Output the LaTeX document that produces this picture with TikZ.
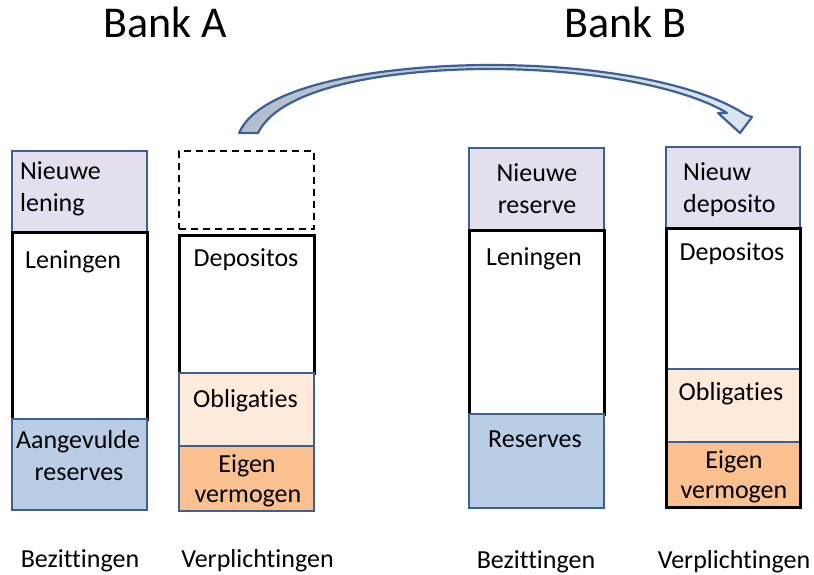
\documentclass[tikz,border=0pt]{standalone}
\usepackage{fontspec}
\setmainfont[Ligatures=NoCommon]{Carlito}
\definecolor{bordblue}{RGB}{62,96,145}
\definecolor{lav}{HTML}{E4DFEC}
\definecolor{resblue}{HTML}{B9CDE5}
\definecolor{peach}{HTML}{FDEADA}
\definecolor{orng}{HTML}{FAC090}
\definecolor{arrL}{HTML}{B2BDCB}
\definecolor{arrR}{HTML}{DCE6F2}
\tikzset{
  blkbox/.style={draw=black, line width=3pt, fill=white, inner sep=0pt},
  bluebox/.style={draw=bordblue, line width=2.5pt, inner sep=0pt},
  lbl/.style={font=\fontsize{26}{31}\selectfont, inner sep=0pt, anchor=base},
  lbll/.style={lbl, anchor=base west},
  ttl/.style={font=\fontsize{44}{50}\selectfont, inner sep=0pt, anchor=base},
}
\begin{document}
\begin{tikzpicture}[x=1pt,y=-1pt]
\useasboundingbox (0,0) rectangle (814,575);
% titles
\node[ttl] (ta) at (165.5,38) {Bank A};
\node[ttl] (tb) at (625.5,38) {Bank B};
% Bank A assets
\node[bluebox, fill=lav, minimum width=135pt, minimum height=81pt] (anl) at (79.5,191.5) {};
\node[blkbox, minimum width=135pt, minimum height=187pt] (alen) at (79.5,325.5) {};
\node[bluebox, fill=resblue, minimum width=135pt, minimum height=91pt] (aag) at (79.5,464.5) {};
\node[lbll] (tanl1) at (20,179) {Nieuwe};
\node[lbll] (tanl2) at (20,211) {lening};
\node[lbll] (talen) at (25,268) {Leningen};
\node[lbl] (taag1) at (78,448) {Aangevulde};
\node[lbl] (taag2) at (79,480) {reserves};
% Bank A liabilities
\node[draw=black, line width=2.4pt, dash pattern=on 7pt off 5pt, inner sep=0pt, minimum width=135pt, minimum height=78pt] (adash) at (246.5,190) {};
\node[blkbox, minimum width=135pt, minimum height=138pt] (adep) at (246.5,304) {};
\node[bluebox, fill=peach, minimum width=135pt, minimum height=73pt] (aobl) at (246.5,409.5) {};
\node[bluebox, fill=orng, minimum width=135pt, minimum height=65pt] (aeig) at (246.5,478.5) {};
\node[lbl] (tadep) at (246,266) {Depositos};
\node[lbl] (taobl) at (245.5,407) {Obligaties};
\node[lbl] (taeig1) at (247,472) {Eigen};
\node[lbl] (taeig2) at (248,502) {vermogen};
% Bank B assets
\node[bluebox, fill=lav, minimum width=135pt, minimum height=82pt] (bnr) at (536.5,189) {};
\node[blkbox, minimum width=135pt, minimum height=184pt] (blen) at (536.5,322) {};
\node[bluebox, fill=resblue, minimum width=135pt, minimum height=94pt] (bres) at (536.5,461) {};
\node[lbl] (tbnr1) at (537,182) {Nieuwe};
\node[lbl] (tbnr2) at (537,213) {reserve};
\node[lbl] (tblen) at (534,265) {Leningen};
\node[lbl] (tbres) at (535,447) {Reserves};
% Bank B liabilities
\node[bluebox, fill=lav, minimum width=134pt, minimum height=81pt] (bnd) at (733,187.5) {};
\node[inner sep=0pt, fill=white, minimum width=134pt, minimum height=141pt] (bdep) at (733,298.5) {};
\node[bluebox, fill=peach, minimum width=134pt, minimum height=73pt] (bobl) at (733,405.5) {};
\node[bluebox, fill=orng, minimum width=134pt, minimum height=65pt] (beig) at (733,474.5) {};
\node[draw=black, line width=3pt, inner sep=0pt, minimum width=134pt, minimum height=279pt] (bframe) at (733,367.5) {};
\node[lbll] (tbnd1) at (683,180) {Nieuw};
\node[lbll] (tbnd2) at (683,212) {deposito};
\node[lbl] (tbdep) at (732,260) {Depositos};
\node[lbl] (tbobl) at (731,400) {Obligaties};
\node[lbl] (tbeig1) at (734,468) {Eigen};
\node[lbl] (tbeig2) at (734,498) {vermogen};
% bottom labels
\node[lbl] (la1) at (80,567) {Bezittingen};
\node[lbl] (la2) at (257.5,567) {Verplichtingen};
\node[lbl] (lb1) at (536,568) {Bezittingen};
\node[lbl] (lb2) at (734,568) {Verplichtingen};
% curved arrow
\coordinate (tailL) at (239,133);
\coordinate (tailR) at (258,133);
\coordinate (topO) at (490,65);
\coordinate (topI) at (490,69);
\coordinate (bodyO) at (746,115);
\coordinate (bodyI) at (727,113);
\coordinate (barbR) at (752,117);
\coordinate (barbL) at (718,113);
\coordinate (tip) at (740,133);
\draw[draw=bordblue, line width=2.2pt, line join=round, left color=arrL, right color=arrR]
  (tailL) .. controls (262,80) and (400,65) .. (topO)
  .. controls (600,65) and (700,84) .. (bodyO)
  -- (barbR) -- (tip) -- (barbL) -- (bodyI)
  .. controls (690,90) and (600,69) .. (topI)
  .. controls (400,69) and (282,84) .. (tailR) -- cycle;
\end{tikzpicture}
\end{document}
